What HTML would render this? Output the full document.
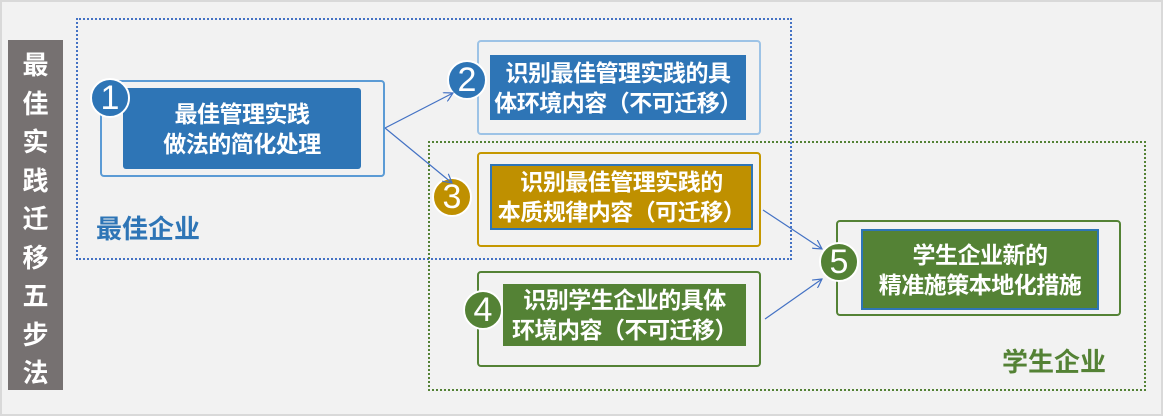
<!DOCTYPE html>
<html><head><meta charset="utf-8"><style>
body{margin:0;width:1163px;height:416px;background:#f2f2f2;position:relative;overflow:hidden;font-family:"Liberation Sans","Noto Sans CJK SC",sans-serif;}
.a{position:absolute;box-sizing:border-box}
.t{color:#fff;font-weight:bold;font-size:23px;line-height:30px;letter-spacing:-0.5px;display:flex;align-items:center;justify-content:center;text-align:center;white-space:nowrap}
.c{position:absolute;border-radius:50%;color:#fff;font-size:34px;display:flex;align-items:center;justify-content:center;border:2px solid #fff;box-sizing:border-box}
</style></head><body>
<div class="a" style="left:0;top:0;width:1163px;height:416px;border:2px solid #d9d9d9"></div>
<div class="a" style="left:8px;top:40px;width:55px;height:350px;background:#767171;color:#fff;font-weight:bold;font-size:26px;line-height:38.5px;text-align:center;padding-top:6px">最<br>佳<br>实<br>践<br>迁<br>移<br>五<br>步<br>法</div>
<div class="a" style="left:76px;top:18px;width:716px;height:242px;border:2px dotted #4472c4"></div>
<div class="a" style="left:428px;top:141px;width:718px;height:250px;border:2px dotted #548235"></div>

<div class="a" style="left:100px;top:80px;width:285px;height:97px;border:2px solid #5b9bd5;border-radius:4px;background:#f2f2f2"></div>
<div class="a t" style="left:123px;top:88px;width:238px;height:81px;background:#2e75b6;border-radius:3px">最佳管理实践<br>做法的简化处理</div>
<div class="c" style="left:90px;top:78px;width:40px;height:40px;background:#2e75b6">1</div>

<div class="a" style="left:477px;top:40px;width:284px;height:95px;border:2px solid #9dc3e6;border-radius:4px;background:#f2f2f2"></div>
<div class="a t" style="left:490px;top:55px;width:256px;height:65px;background:#2e75b6">识别最佳管理实践的具<br>体环境内容（不可迁移）</div>
<div class="c" style="left:447px;top:60px;width:40px;height:40px;background:#2e75b6">2</div>

<div class="a" style="left:477px;top:152px;width:284px;height:95px;border:2px solid #c59800;border-radius:4px;background:#f2f2f2"></div>
<div class="a t" style="left:490px;top:164px;width:263px;height:66px;background:#bf9000;border:2px solid #2e75b6">识别最佳管理实践的<br>本质规律内容（可迁移）</div>
<div class="c" style="left:432px;top:177px;width:40px;height:40px;background:#bf9000">3</div>

<div class="a" style="left:477px;top:271px;width:284px;height:96px;border:2px solid #548235;border-radius:4px;background:#f2f2f2"></div>
<div class="a t" style="left:503px;top:284px;width:243px;height:62px;background:#548235">识别学生企业的具体<br>环境内容（不可迁移）</div>
<div class="c" style="left:463px;top:290px;width:40px;height:40px;background:#548235">4</div>

<div class="a" style="left:836px;top:220px;width:285px;height:96px;border:2px solid #548235;border-radius:4px;background:#f2f2f2"></div>
<div class="a t" style="left:861px;top:229px;width:238px;height:81px;background:#548235;border:2px solid #2e75b6">学生企业新的<br>精准施策本地化措施</div>
<div class="c" style="left:819px;top:242px;width:40px;height:40px;background:#548235">5</div>

<div class="a" style="left:96px;top:209px;color:#2e75b6;font-weight:bold;font-size:26px">最佳企业</div>
<div class="a" style="left:1002px;top:342px;color:#548235;font-weight:bold;font-size:26px">学生企业</div>

<svg class="a" style="left:0;top:0" width="1163" height="416">
<defs><marker id="m" markerWidth="10" markerHeight="10" refX="9" refY="5" orient="auto" markerUnits="userSpaceOnUse"><path d="M0,0 L9,5 L0,10" fill="none" stroke="#4472c4" stroke-width="1.2"/></marker></defs>
<g stroke="#4472c4" stroke-width="1.2" fill="none" marker-end="url(#m)">
<line x1="385" y1="128" x2="453" y2="93"/>
<line x1="385" y1="128" x2="452" y2="183"/>
<line x1="763" y1="210" x2="822" y2="249"/>
<line x1="765" y1="319" x2="822" y2="279"/>
</g></svg>
</body></html>
